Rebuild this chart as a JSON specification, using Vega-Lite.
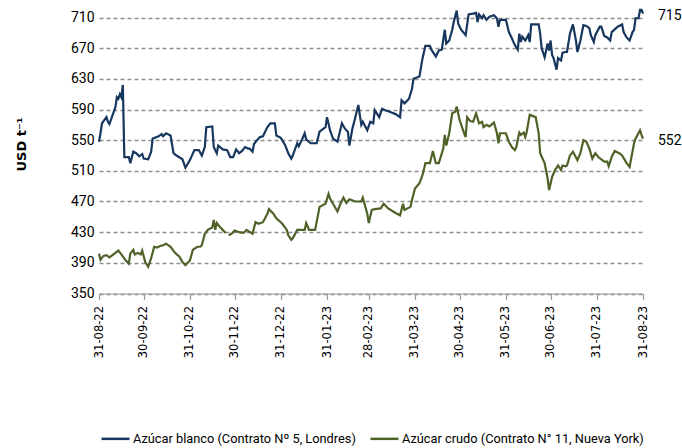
{
  "$schema": "https://vega.github.io/schema/vega-lite/v6.json",
  "autosize": "none",
  "width": 544,
  "height": 287.5,
  "padding": {"left": 99, "top": 6, "right": 39, "bottom": 154.5},
  "background": "white",
  "config": {
    "view": {"stroke": null},
    "font": "Roboto"
  },
  "data": {
    "format": {"parse": {"d": "date:'%Y-%m-%d'"}},
    "values": [
      {"s":"b","d":"2022-08-31","v":548},{"s":"b","d":"2022-09-01","v":559},{"s":"b","d":"2022-09-02","v":572},{"s":"b","d":"2022-09-05","v":580},{"s":"b","d":"2022-09-06","v":574},{"s":"b","d":"2022-09-07","v":571},{"s":"b","d":"2022-09-11","v":593},{"s":"b","d":"2022-09-12","v":606},{"s":"b","d":"2022-09-13","v":604},{"s":"b","d":"2022-09-14","v":610},{"s":"b","d":"2022-09-15","v":606},{"s":"b","d":"2022-09-16","v":622},{"s":"b","d":"2022-09-17","v":528},{"s":"b","d":"2022-09-20","v":528},{"s":"b","d":"2022-09-21","v":520},{"s":"b","d":"2022-09-23","v":535},{"s":"b","d":"2022-09-25","v":533},{"s":"b","d":"2022-09-27","v":529},{"s":"b","d":"2022-09-29","v":532},{"s":"b","d":"2022-09-30","v":526},
      {"s":"b","d":"2022-10-03","v":525},{"s":"b","d":"2022-10-05","v":535},{"s":"b","d":"2022-10-06","v":552},{"s":"b","d":"2022-10-10","v":555},{"s":"b","d":"2022-10-12","v":558},{"s":"b","d":"2022-10-13","v":555},{"s":"b","d":"2022-10-15","v":559},{"s":"b","d":"2022-10-18","v":556},{"s":"b","d":"2022-10-20","v":533},{"s":"b","d":"2022-10-22","v":530},{"s":"b","d":"2022-10-26","v":525},{"s":"b","d":"2022-10-28","v":514},{"s":"b","d":"2022-10-31","v":524},
      {"s":"b","d":"2022-11-03","v":537},{"s":"b","d":"2022-11-06","v":537},{"s":"b","d":"2022-11-08","v":530},{"s":"b","d":"2022-11-10","v":541},{"s":"b","d":"2022-11-11","v":567},{"s":"b","d":"2022-11-15","v":568},{"s":"b","d":"2022-11-16","v":541},{"s":"b","d":"2022-11-18","v":533},{"s":"b","d":"2022-11-19","v":543},{"s":"b","d":"2022-11-22","v":538},{"s":"b","d":"2022-11-25","v":537},{"s":"b","d":"2022-11-27","v":528},{"s":"b","d":"2022-11-29","v":528},
      {"s":"b","d":"2022-12-01","v":538},{"s":"b","d":"2022-12-03","v":533},{"s":"b","d":"2022-12-05","v":536},{"s":"b","d":"2022-12-07","v":541},{"s":"b","d":"2022-12-09","v":539},{"s":"b","d":"2022-12-10","v":539},{"s":"b","d":"2022-12-12","v":535},{"s":"b","d":"2022-12-13","v":545},{"s":"b","d":"2022-12-15","v":550},{"s":"b","d":"2022-12-17","v":554},{"s":"b","d":"2022-12-19","v":555},{"s":"b","d":"2022-12-22","v":567},{"s":"b","d":"2022-12-24","v":572},{"s":"b","d":"2022-12-27","v":572},{"s":"b","d":"2022-12-28","v":556},{"s":"b","d":"2022-12-31","v":553},
      {"s":"b","d":"2023-01-03","v":543},{"s":"b","d":"2023-01-05","v":533},{"s":"b","d":"2023-01-07","v":526},{"s":"b","d":"2023-01-08","v":530},{"s":"b","d":"2023-01-11","v":546},{"s":"b","d":"2023-01-12","v":542},{"s":"b","d":"2023-01-14","v":550},{"s":"b","d":"2023-01-16","v":559},{"s":"b","d":"2023-01-17","v":551},{"s":"b","d":"2023-01-20","v":546},{"s":"b","d":"2023-01-24","v":546},{"s":"b","d":"2023-01-26","v":561},{"s":"b","d":"2023-01-30","v":567},{"s":"b","d":"2023-01-31","v":580},
      {"s":"b","d":"2023-02-02","v":563},{"s":"b","d":"2023-02-04","v":552},{"s":"b","d":"2023-02-07","v":548},{"s":"b","d":"2023-02-10","v":572},{"s":"b","d":"2023-02-12","v":565},{"s":"b","d":"2023-02-14","v":561},{"s":"b","d":"2023-02-15","v":543},{"s":"b","d":"2023-02-17","v":565},{"s":"b","d":"2023-02-19","v":580},{"s":"b","d":"2023-02-21","v":596},{"s":"b","d":"2023-02-23","v":570},{"s":"b","d":"2023-02-24","v":574},{"s":"b","d":"2023-02-27","v":563},
      {"s":"b","d":"2023-03-01","v":574},{"s":"b","d":"2023-03-03","v":572},{"s":"b","d":"2023-03-04","v":589},{"s":"b","d":"2023-03-07","v":580},{"s":"b","d":"2023-03-09","v":591},{"s":"b","d":"2023-03-11","v":589},{"s":"b","d":"2023-03-14","v":587},{"s":"b","d":"2023-03-18","v":584},{"s":"b","d":"2023-03-21","v":580},{"s":"b","d":"2023-03-22","v":602},{"s":"b","d":"2023-03-24","v":598},{"s":"b","d":"2023-03-27","v":604},{"s":"b","d":"2023-03-29","v":617},{"s":"b","d":"2023-03-30","v":630},
      {"s":"b","d":"2023-04-03","v":633},{"s":"b","d":"2023-04-05","v":656},{"s":"b","d":"2023-04-07","v":673},{"s":"b","d":"2023-04-10","v":673},{"s":"b","d":"2023-04-11","v":668},{"s":"b","d":"2023-04-14","v":659},{"s":"b","d":"2023-04-16","v":667},{"s":"b","d":"2023-04-18","v":668},{"s":"b","d":"2023-04-20","v":694},{"s":"b","d":"2023-04-21","v":676},{"s":"b","d":"2023-04-23","v":680},{"s":"b","d":"2023-04-25","v":694},{"s":"b","d":"2023-04-26","v":704},{"s":"b","d":"2023-04-28","v":719},{"s":"b","d":"2023-04-29","v":702},
      {"s":"b","d":"2023-05-01","v":694},{"s":"b","d":"2023-05-04","v":687},{"s":"b","d":"2023-05-06","v":714},{"s":"b","d":"2023-05-09","v":715},{"s":"b","d":"2023-05-11","v":716},{"s":"b","d":"2023-05-12","v":704},{"s":"b","d":"2023-05-13","v":714},{"s":"b","d":"2023-05-15","v":709},{"s":"b","d":"2023-05-16","v":713},{"s":"b","d":"2023-05-18","v":707},{"s":"b","d":"2023-05-20","v":711},{"s":"b","d":"2023-05-23","v":713},{"s":"b","d":"2023-05-25","v":709},{"s":"b","d":"2023-05-26","v":698},{"s":"b","d":"2023-05-27","v":707},{"s":"b","d":"2023-05-31","v":707},
      {"s":"b","d":"2023-06-02","v":691},{"s":"b","d":"2023-06-04","v":683},{"s":"b","d":"2023-06-06","v":674},{"s":"b","d":"2023-06-08","v":668},{"s":"b","d":"2023-06-09","v":689},{"s":"b","d":"2023-06-10","v":678},{"s":"b","d":"2023-06-11","v":685},{"s":"b","d":"2023-06-13","v":680},{"s":"b","d":"2023-06-15","v":687},{"s":"b","d":"2023-06-16","v":678},{"s":"b","d":"2023-06-17","v":701},{"s":"b","d":"2023-06-22","v":701},{"s":"b","d":"2023-06-23","v":689},{"s":"b","d":"2023-06-24","v":670},{"s":"b","d":"2023-06-26","v":658},{"s":"b","d":"2023-06-28","v":676},{"s":"b","d":"2023-06-29","v":667},{"s":"b","d":"2023-06-30","v":680},
      {"s":"b","d":"2023-07-01","v":661},{"s":"b","d":"2023-07-02","v":657},{"s":"b","d":"2023-07-04","v":642},{"s":"b","d":"2023-07-05","v":657},{"s":"b","d":"2023-07-07","v":654},{"s":"b","d":"2023-07-08","v":664},{"s":"b","d":"2023-07-10","v":665},{"s":"b","d":"2023-07-11","v":665},{"s":"b","d":"2023-07-13","v":689},{"s":"b","d":"2023-07-15","v":701},{"s":"b","d":"2023-07-17","v":680},{"s":"b","d":"2023-07-18","v":665},{"s":"b","d":"2023-07-20","v":680},{"s":"b","d":"2023-07-22","v":700},{"s":"b","d":"2023-07-24","v":699},{"s":"b","d":"2023-07-26","v":696},{"s":"b","d":"2023-07-27","v":687},{"s":"b","d":"2023-07-29","v":678},{"s":"b","d":"2023-07-30","v":687},
      {"s":"b","d":"2023-08-02","v":698},{"s":"b","d":"2023-08-03","v":698},{"s":"b","d":"2023-08-05","v":686},{"s":"b","d":"2023-08-07","v":684},{"s":"b","d":"2023-08-09","v":680},{"s":"b","d":"2023-08-10","v":691},{"s":"b","d":"2023-08-14","v":698},{"s":"b","d":"2023-08-17","v":701},{"s":"b","d":"2023-08-18","v":691},{"s":"b","d":"2023-08-20","v":684},{"s":"b","d":"2023-08-22","v":680},{"s":"b","d":"2023-08-24","v":691},{"s":"b","d":"2023-08-25","v":694},{"s":"b","d":"2023-08-26","v":709},{"s":"b","d":"2023-08-28","v":709},{"s":"b","d":"2023-08-29","v":720},{"s":"b","d":"2023-08-30","v":720},{"s":"b","d":"2023-08-31","v":715},

      {"s":"c","d":"2022-08-31","v":402},{"s":"c","d":"2022-09-01","v":394},{"s":"c","d":"2022-09-03","v":399},{"s":"c","d":"2022-09-05","v":400},{"s":"c","d":"2022-09-07","v":397},{"s":"c","d":"2022-09-09","v":400},{"s":"c","d":"2022-09-11","v":403},{"s":"c","d":"2022-09-13","v":406},{"s":"c","d":"2022-09-15","v":401},{"s":"c","d":"2022-09-18","v":393},{"s":"c","d":"2022-09-20","v":389},{"s":"c","d":"2022-09-21","v":402},{"s":"c","d":"2022-09-23","v":407},{"s":"c","d":"2022-09-24","v":401},{"s":"c","d":"2022-09-26","v":403},{"s":"c","d":"2022-09-28","v":401},{"s":"c","d":"2022-09-29","v":406},
      {"s":"c","d":"2022-10-01","v":391},{"s":"c","d":"2022-10-03","v":385},{"s":"c","d":"2022-10-05","v":396},{"s":"c","d":"2022-10-07","v":411},{"s":"c","d":"2022-10-09","v":410},{"s":"c","d":"2022-10-11","v":412},{"s":"c","d":"2022-10-13","v":413},{"s":"c","d":"2022-10-15","v":415},{"s":"c","d":"2022-10-18","v":411},{"s":"c","d":"2022-10-21","v":403},{"s":"c","d":"2022-10-24","v":398},{"s":"c","d":"2022-10-26","v":391},{"s":"c","d":"2022-10-28","v":387},{"s":"c","d":"2022-10-31","v":393},
      {"s":"c","d":"2022-11-02","v":407},{"s":"c","d":"2022-11-05","v":411},{"s":"c","d":"2022-11-07","v":411},{"s":"c","d":"2022-11-08","v":413},{"s":"c","d":"2022-11-10","v":428},{"s":"c","d":"2022-11-12","v":433},{"s":"c","d":"2022-11-15","v":436},{"s":"c","d":"2022-11-16","v":446},{"s":"c","d":"2022-11-17","v":433},{"s":"c","d":"2022-11-18","v":442},{"s":"c","d":"2022-11-20","v":437},{"s":"c","d":"2022-11-22","v":433},{"s":"c","d":"2022-11-24","v":429},{"s":"c","d":"2022-11-25","v":null},{"s":"c","d":"2022-11-26","v":426},{"s":"c","d":"2022-11-28","v":428},{"s":"c","d":"2022-11-30","v":432},
      {"s":"c","d":"2022-12-03","v":430},{"s":"c","d":"2022-12-06","v":429},{"s":"c","d":"2022-12-08","v":433},{"s":"c","d":"2022-12-12","v":428},{"s":"c","d":"2022-12-14","v":443},{"s":"c","d":"2022-12-16","v":441},{"s":"c","d":"2022-12-19","v":443},{"s":"c","d":"2022-12-22","v":454},{"s":"c","d":"2022-12-23","v":460},{"s":"c","d":"2022-12-26","v":454},{"s":"c","d":"2022-12-28","v":448},
      {"s":"c","d":"2023-01-01","v":441},{"s":"c","d":"2023-01-04","v":433},{"s":"c","d":"2023-01-05","v":426},{"s":"c","d":"2023-01-07","v":420},{"s":"c","d":"2023-01-08","v":422},{"s":"c","d":"2023-01-11","v":433},{"s":"c","d":"2023-01-14","v":433},{"s":"c","d":"2023-01-16","v":433},{"s":"c","d":"2023-01-17","v":442},{"s":"c","d":"2023-01-19","v":433},{"s":"c","d":"2023-01-23","v":433},{"s":"c","d":"2023-01-26","v":463},{"s":"c","d":"2023-01-30","v":467},
      {"s":"c","d":"2023-02-01","v":480},{"s":"c","d":"2023-02-02","v":474},{"s":"c","d":"2023-02-04","v":467},{"s":"c","d":"2023-02-07","v":457},{"s":"c","d":"2023-02-09","v":467},{"s":"c","d":"2023-02-11","v":475},{"s":"c","d":"2023-02-13","v":468},{"s":"c","d":"2023-02-15","v":473},{"s":"c","d":"2023-02-19","v":470},{"s":"c","d":"2023-02-23","v":470},{"s":"c","d":"2023-02-24","v":475},{"s":"c","d":"2023-02-27","v":454},{"s":"c","d":"2023-02-28","v":442},
      {"s":"c","d":"2023-03-02","v":459},{"s":"c","d":"2023-03-04","v":460},{"s":"c","d":"2023-03-08","v":461},{"s":"c","d":"2023-03-10","v":467},{"s":"c","d":"2023-03-13","v":461},{"s":"c","d":"2023-03-18","v":455},{"s":"c","d":"2023-03-21","v":452},{"s":"c","d":"2023-03-23","v":467},{"s":"c","d":"2023-03-24","v":459},{"s":"c","d":"2023-03-28","v":463},{"s":"c","d":"2023-03-29","v":472},{"s":"c","d":"2023-03-31","v":487},
      {"s":"c","d":"2023-04-03","v":494},{"s":"c","d":"2023-04-05","v":504},{"s":"c","d":"2023-04-07","v":520},{"s":"c","d":"2023-04-10","v":520},{"s":"c","d":"2023-04-12","v":536},{"s":"c","d":"2023-04-14","v":520},{"s":"c","d":"2023-04-16","v":520},{"s":"c","d":"2023-04-19","v":539},{"s":"c","d":"2023-04-20","v":557},{"s":"c","d":"2023-04-21","v":543},{"s":"c","d":"2023-04-23","v":559},{"s":"c","d":"2023-04-25","v":585},{"s":"c","d":"2023-04-27","v":587},{"s":"c","d":"2023-04-28","v":594},{"s":"c","d":"2023-04-30","v":576},
      {"s":"c","d":"2023-05-03","v":559},{"s":"c","d":"2023-05-04","v":554},{"s":"c","d":"2023-05-05","v":580},{"s":"c","d":"2023-05-07","v":575},{"s":"c","d":"2023-05-09","v":574},{"s":"c","d":"2023-05-11","v":585},{"s":"c","d":"2023-05-13","v":572},{"s":"c","d":"2023-05-15","v":574},{"s":"c","d":"2023-05-16","v":567},{"s":"c","d":"2023-05-18","v":570},{"s":"c","d":"2023-05-20","v":568},{"s":"c","d":"2023-05-23","v":573},{"s":"c","d":"2023-05-25","v":559},{"s":"c","d":"2023-05-26","v":546},{"s":"c","d":"2023-05-27","v":559},{"s":"c","d":"2023-05-31","v":559},
      {"s":"c","d":"2023-06-02","v":548},{"s":"c","d":"2023-06-04","v":541},{"s":"c","d":"2023-06-06","v":537},{"s":"c","d":"2023-06-07","v":541},{"s":"c","d":"2023-06-09","v":560},{"s":"c","d":"2023-06-10","v":557},{"s":"c","d":"2023-06-12","v":560},{"s":"c","d":"2023-06-13","v":554},{"s":"c","d":"2023-06-14","v":561},{"s":"c","d":"2023-06-16","v":583},{"s":"c","d":"2023-06-20","v":580},{"s":"c","d":"2023-06-22","v":559},{"s":"c","d":"2023-06-23","v":533},{"s":"c","d":"2023-06-26","v":520},{"s":"c","d":"2023-06-28","v":500},{"s":"c","d":"2023-06-29","v":485},
      {"s":"c","d":"2023-07-01","v":502},{"s":"c","d":"2023-07-03","v":511},{"s":"c","d":"2023-07-05","v":517},{"s":"c","d":"2023-07-07","v":511},{"s":"c","d":"2023-07-08","v":517},{"s":"c","d":"2023-07-10","v":516},{"s":"c","d":"2023-07-11","v":517},{"s":"c","d":"2023-07-13","v":530},{"s":"c","d":"2023-07-15","v":535},{"s":"c","d":"2023-07-18","v":524},{"s":"c","d":"2023-07-20","v":533},{"s":"c","d":"2023-07-22","v":550},{"s":"c","d":"2023-07-24","v":548},{"s":"c","d":"2023-07-26","v":539},{"s":"c","d":"2023-07-28","v":526},{"s":"c","d":"2023-07-30","v":533},
      {"s":"c","d":"2023-08-01","v":528},{"s":"c","d":"2023-08-05","v":522},{"s":"c","d":"2023-08-07","v":522},{"s":"c","d":"2023-08-08","v":516},{"s":"c","d":"2023-08-10","v":528},{"s":"c","d":"2023-08-12","v":536},{"s":"c","d":"2023-08-15","v":533},{"s":"c","d":"2023-08-17","v":530},{"s":"c","d":"2023-08-20","v":520},{"s":"c","d":"2023-08-22","v":515},{"s":"c","d":"2023-08-25","v":546},{"s":"c","d":"2023-08-26","v":552},{"s":"c","d":"2023-08-29","v":563},{"s":"c","d":"2023-08-30","v":557},{"s":"c","d":"2023-08-31","v":552}
    ]
  },
  "encoding": {
    "x": {
      "field": "d",
      "type": "temporal",
      "scale": {"domain": [{"year": 2022, "month": 8, "date": 31}, {"year": 2023, "month": 8, "date": 31}]},
      "axis": {
        "title": null,
        "values": [
          {"year": 2022, "month": 8, "date": 31}, {"year": 2022, "month": 9, "date": 30}, {"year": 2022, "month": 10, "date": 31},
          {"year": 2022, "month": 11, "date": 30}, {"year": 2022, "month": 12, "date": 31}, {"year": 2023, "month": 1, "date": 31},
          {"year": 2023, "month": 2, "date": 28}, {"year": 2023, "month": 3, "date": 31}, {"year": 2023, "month": 4, "date": 30},
          {"year": 2023, "month": 5, "date": 31}, {"year": 2023, "month": 6, "date": 30}, {"year": 2023, "month": 7, "date": 31},
          {"year": 2023, "month": 8, "date": 31}
        ],
        "format": "%d-%m-%y",
        "labelAngle": 270,
        "labelAlign": "right",
        "labelBaseline": "middle",
        "labelFont": "DejaVu Sans",
        "labelFontSize": 11.5,
        "labelColor": "#000000",
        "labelPadding": 6,
        "labelOverlap": false,
        "labelFlush": false,
        "grid": false,
        "domainColor": "#9a9a9a",
        "domainWidth": 1.2,
        "tickColor": "#9a9a9a",
        "tickWidth": 1.2,
        "tickSize": 6
      }
    },
    "y": {
      "field": "v",
      "type": "quantitative",
      "scale": {"domain": [350, 725], "nice": false, "zero": false},
      "axis": {
        "title": "USD t⁻¹",
        "titleFont": "DejaVu Sans",
        "titleFontSize": 13,
        "titleFontWeight": "bold",
        "titleColor": "#000000",
        "titleAngle": 270,
        "titleX": -78,
        "titleY": 138,
        "titleAlign": "center",
        "titleBaseline": "middle",
        "values": [350, 390, 430, 470, 510, 550, 590, 630, 670, 710],
        "labelOverlap": false,
        "labelFont": "Roboto",
        "labelFontSize": 14,
        "labelColor": "#000000",
        "labelPadding": 5,
        "domain": false,
        "ticks": false,
        "grid": true,
        "gridColor": "#8f8f8f",
        "gridDash": [4, 3],
        "gridWidth": 1.3
      }
    }
  },
  "layer": [
    {
      "mark": {"type": "line", "strokeWidth": 2.2, "invalid": "break-paths-show-domains", "clip": false},
      "encoding": {
        "color": {
          "field": "s",
          "type": "nominal",
          "scale": {"domain": ["b", "c"], "range": ["#17375E", "#4F6228"]},
          "legend": {
            "orient": "none",
            "legendX": 1,
            "legendY": 417,
            "direction": "horizontal",
            "title": null,
            "symbolType": "stroke",
            "symbolSize": 784,
            "symbolStrokeWidth": 2.5,
            "labelFont": "Roboto",
            "labelFontSize": 12.8,
            "labelColor": "#000000",
            "labelLimit": 0,
            "labelOffset": 2,
            "columnPadding": 9,
            "labelExpr": "datum.label == 'b' ? 'Azúcar blanco (Contrato Nº 5, Londres)' : 'Azúcar crudo (Contrato N° 11, Nueva York)'"
          }
        }
      }
    },
    {
      "transform": [{"filter": "datum.d >= datetime(2023, 7, 31)"}],
      "mark": {"type": "text", "align": "left", "baseline": "middle", "dx": 15, "dy": 2, "font": "Roboto", "fontSize": 14, "color": "#000000"},
      "encoding": {
        "text": {"field": "v", "type": "quantitative", "format": "d"}
      }
    }
  ]
}
